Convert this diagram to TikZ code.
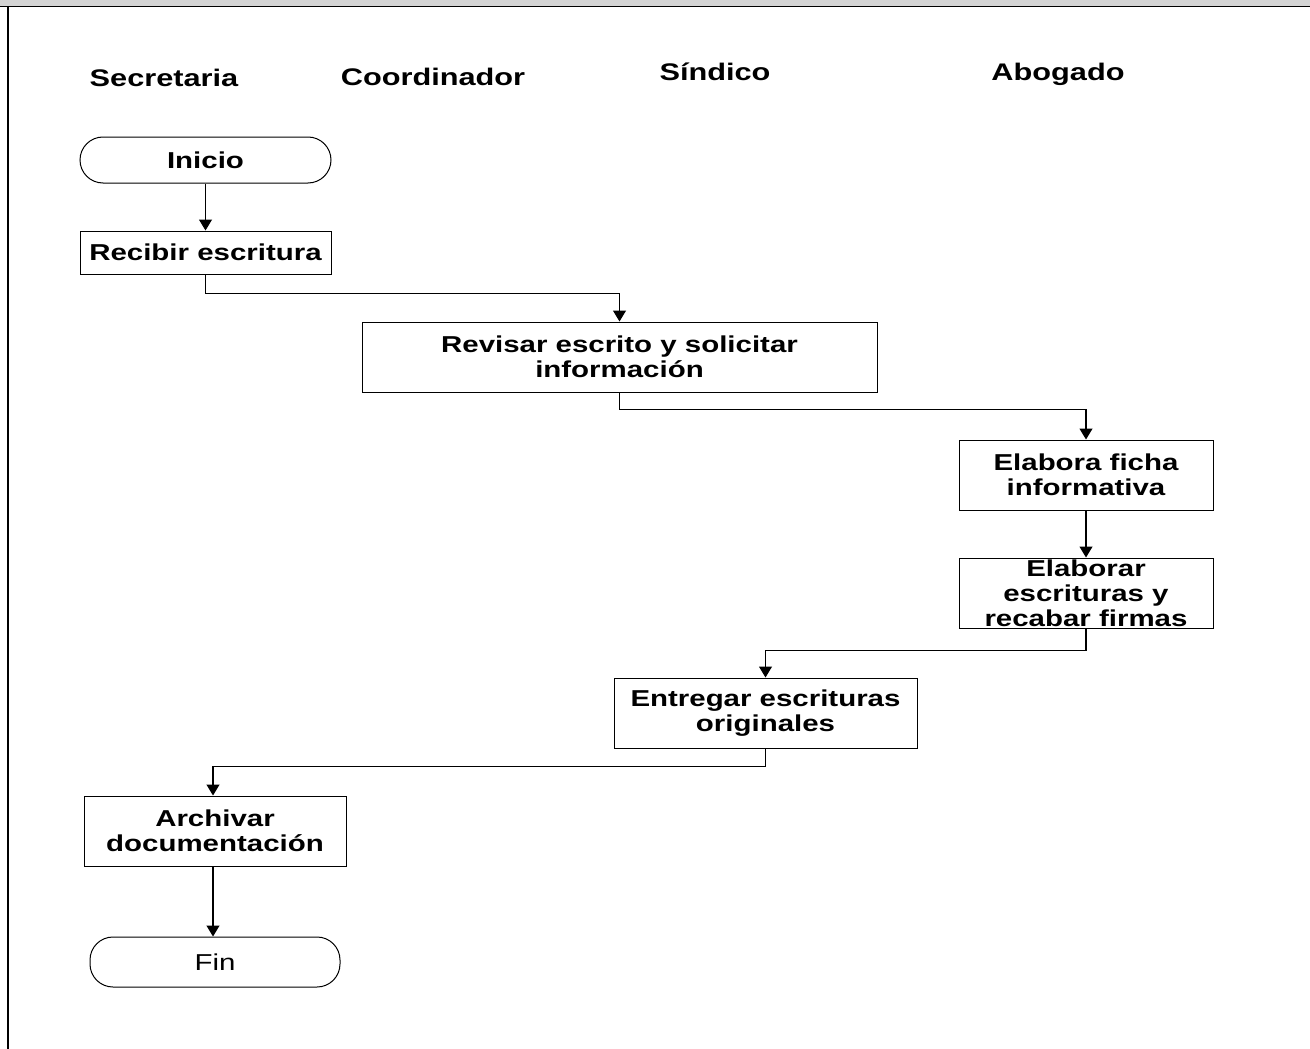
\documentclass[tikz,border=0pt]{standalone}
\usepackage{fontspec}
\setmainfont{Liberation Sans}[FakeStretch=1.28]
\usetikzlibrary{arrows.meta}
\newcommand\headfont{\fontsize{24}{26}\selectfont\bfseries}
\newcommand\boxfont{\fontsize{23}{25}\selectfont\bfseries}
\begin{document}
\begin{tikzpicture}[x=1pt,y=-1pt,
  line width=1pt,
  head/.style={anchor=base,font=\headfont,inner sep=0pt},
  stepbox/.style={draw,line width=1pt,inner sep=0pt,align=center,font=\boxfont},
  term/.style={draw,line width=1pt,inner sep=0pt,rounded corners=23pt,align=center},
  arr/.style={-{Triangle[length=11pt,width=13pt]},line width=1.2pt}]
\useasboundingbox (0,0) rectangle (1310,1049);
% window frame
\fill[black!17] (0,0) rectangle (1310,6);
\draw[line width=1.6pt] (0,6.5) -- (1310,6.5);
\draw[line width=1.6pt] (8,6.5) -- (8,1049);
% lane headings
\node[head] (h1) at (164,87) {Secretaria};
\node[head] (h2) at (433,85) {Coordinador};
\node[head] (h3) at (715,81) {Síndico};
\node[head] (h4) at (1058,81) {Abogado};
% process steps
\node[term,minimum width=251pt,minimum height=46pt,font=\boxfont] (ini) at (205.5,160) {Inicio};
\node[stepbox,minimum width=251pt,minimum height=43pt] (rec) at (205.5,252.5) {Recibir escritura};
\node[stepbox,minimum width=515pt,minimum height=70pt] (rev) at (619.5,357) {Revisar escrito y solicitar\\información};
\node[stepbox,minimum width=254pt,minimum height=70pt] (fic) at (1086,475) {Elabora ficha\\informativa};
\node[stepbox,minimum width=254pt,minimum height=70pt] (esc) at (1086,593) {Elaborar\\escrituras y\\recabar firmas};
\node[stepbox,minimum width=303pt,minimum height=70pt] (ent) at (765.5,713) {Entregar escrituras\\originales};
\node[stepbox,minimum width=262pt,minimum height=70pt] (arc) at (215,831) {Archivar\\documentación};
\node[term,minimum width=250pt,minimum height=50pt,font=\fontsize{23}{25}\selectfont] (fin) at (215,962) {Fin};
% connectors
\draw[arr] (ini.south) -- (rec.north);
\draw[arr] (rec.south) -- ++(0,19) -| (rev.north);
\draw[arr] (rev.south) -- ++(0,17) -| (fic.north);
\draw[arr] (fic.south) -- (esc.north);
\draw[arr] (esc.south) -- ++(0,22) -| (ent.north);
\draw[arr] (ent.south) -- ++(0,18) -| ([xshift=-2pt]arc.north);
\draw[arr] ([xshift=-2pt]arc.south) -- ([xshift=-2pt]fin.north);
\end{tikzpicture}
\end{document}
